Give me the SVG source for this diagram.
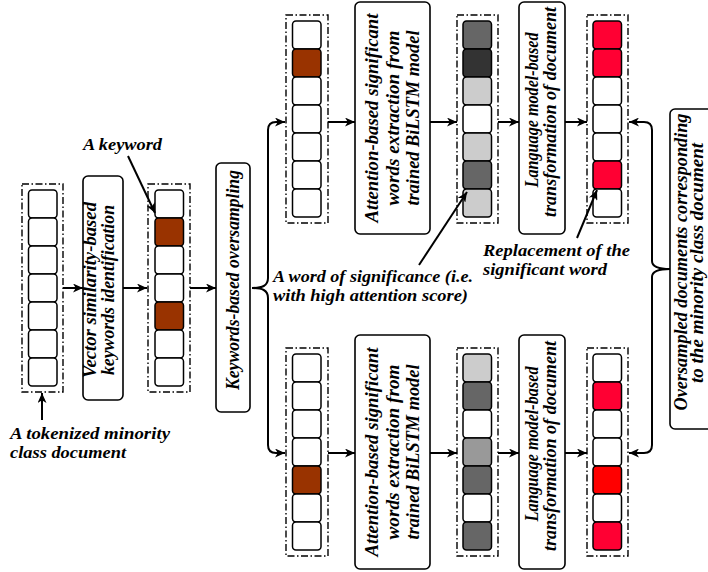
<svg xmlns="http://www.w3.org/2000/svg" width="708" height="572" viewBox="0 0 708 572">
<defs>
<marker id="ah" markerWidth="11" markerHeight="9" refX="10" refY="4.5" orient="auto" markerUnits="userSpaceOnUse">
<path d="M0,0 L10,4.5 L0,9 L2.8,4.5 Z" fill="#000"/>
</marker>
<style>
.t{font-family:"Liberation Serif","Times New Roman",serif;font-style:italic;font-weight:bold;font-size:18px;fill:#000}
.lb{font-size:17px}
.box{fill:#fff;stroke:#000;stroke-width:1.6}
.dash{fill:none;stroke:#000;stroke-width:1.4;stroke-dasharray:7 2.5 1.5 2.5}
.c{stroke:#000;stroke-width:1.5;fill:#fff}
.w{fill:#fff}.br{fill:#993300}.r{fill:#ff0033}.rr{fill:#ff0000}
.g1{fill:#666666}.g2{fill:#333333}.g3{fill:#cccccc}.g4{fill:#999999}
.ln{fill:none;stroke:#000;stroke-width:2;marker-end:url(#ah)}
</style>
</defs>
<rect width="708" height="572" fill="#fff"/>

<g id="doc1">
<rect class="dash" x="22" y="184" width="41" height="208"/>
<rect class="c w" x="28.5" y="190" width="28.5" height="28" rx="3.5"/>
<rect class="c w" x="28.5" y="218" width="28.5" height="28" rx="3.5"/>
<rect class="c w" x="28.5" y="246" width="28.5" height="28" rx="3.5"/>
<rect class="c w" x="28.5" y="274" width="28.5" height="28" rx="3.5"/>
<rect class="c w" x="28.5" y="302" width="28.5" height="28" rx="3.5"/>
<rect class="c w" x="28.5" y="330" width="28.5" height="28" rx="3.5"/>
<rect class="c w" x="28.5" y="358" width="28.5" height="28" rx="3.5"/>
</g>

<g id="vector-box">
<rect class="box" x="83" y="176" width="40" height="224" rx="5"/>
<text class="t" text-anchor="middle" textLength="176" lengthAdjust="spacingAndGlyphs" transform="translate(95.5,290) rotate(-90)">Vector similarity-based</text>
<text class="t" text-anchor="middle" textLength="170" lengthAdjust="spacingAndGlyphs" transform="translate(113.5,290) rotate(-90)">keywords identification</text>
</g>

<g id="doc2">
<rect class="dash" x="148" y="184" width="42" height="208"/>
<rect class="c w" x="155" y="190" width="28.5" height="28" rx="3.5"/>
<rect class="c br" x="155" y="218" width="28.5" height="28" rx="3.5"/>
<rect class="c w" x="155" y="246" width="28.5" height="28" rx="3.5"/>
<rect class="c w" x="155" y="274" width="28.5" height="28" rx="3.5"/>
<rect class="c br" x="155" y="302" width="28.5" height="28" rx="3.5"/>
<rect class="c w" x="155" y="330" width="28.5" height="28" rx="3.5"/>
<rect class="c w" x="155" y="358" width="28.5" height="28" rx="3.5"/>
</g>

<g id="oversampling-box">
<rect class="box" x="216" y="163" width="34" height="249" rx="5"/>
<text class="t" text-anchor="middle" textLength="220" lengthAdjust="spacingAndGlyphs" transform="translate(239,280) rotate(-90)">Keywords-based oversampling</text>
</g>

<g id="doc3">
<rect class="dash" x="286" y="15" width="42" height="208"/>
<rect class="c w" x="292.5" y="21" width="28.5" height="28" rx="3.5"/>
<rect class="c br" x="292.5" y="49" width="28.5" height="28" rx="3.5"/>
<rect class="c w" x="292.5" y="77" width="28.5" height="28" rx="3.5"/>
<rect class="c w" x="292.5" y="105" width="28.5" height="28" rx="3.5"/>
<rect class="c w" x="292.5" y="133" width="28.5" height="28" rx="3.5"/>
<rect class="c w" x="292.5" y="161" width="28.5" height="28" rx="3.5"/>
<rect class="c w" x="292.5" y="189" width="28.5" height="28" rx="3.5"/>
</g>

<g id="attention-top">
<rect class="box" x="355" y="2" width="75" height="232" rx="5"/>
<text class="t" text-anchor="middle" textLength="209" lengthAdjust="spacingAndGlyphs" transform="translate(378,118) rotate(-90)">Attention-based significant</text>
<text class="t" text-anchor="middle" textLength="175" lengthAdjust="spacingAndGlyphs" transform="translate(398.5,118) rotate(-90)">words extraction from</text>
<text class="t" text-anchor="middle" textLength="175" lengthAdjust="spacingAndGlyphs" transform="translate(418.5,118) rotate(-90)">trained BiLSTM model</text>
</g>

<g id="doc4">
<rect class="dash" x="457" y="15" width="41" height="208"/>
<rect class="c g1" x="463" y="21" width="28.5" height="28" rx="3.5"/>
<rect class="c g2" x="463" y="49" width="28.5" height="28" rx="3.5"/>
<rect class="c g3" x="463" y="77" width="28.5" height="28" rx="3.5"/>
<rect class="c w" x="463" y="105" width="28.5" height="28" rx="3.5"/>
<rect class="c g3" x="463" y="133" width="28.5" height="28" rx="3.5"/>
<rect class="c g1" x="463" y="161" width="28.5" height="28" rx="3.5"/>
<rect class="c g3" x="463" y="189" width="28.5" height="28" rx="3.5"/>
</g>

<g id="lm-top">
<rect class="box" x="519" y="2" width="46" height="232" rx="5"/>
<text class="t" text-anchor="middle" textLength="155" lengthAdjust="spacingAndGlyphs" transform="translate(537.5,110) rotate(-90)">Language model-based</text>
<text class="t" text-anchor="middle" textLength="210" lengthAdjust="spacingAndGlyphs" transform="translate(556,112) rotate(-90)">transformation of document</text>
</g>

<g id="doc5">
<rect class="dash" x="587" y="15" width="41" height="208"/>
<rect class="c r" x="593" y="21" width="28.5" height="28" rx="3.5"/>
<rect class="c r" x="593" y="49" width="28.5" height="28" rx="3.5"/>
<rect class="c w" x="593" y="77" width="28.5" height="28" rx="3.5"/>
<rect class="c w" x="593" y="105" width="28.5" height="28" rx="3.5"/>
<rect class="c w" x="593" y="133" width="28.5" height="28" rx="3.5"/>
<rect class="c r" x="593" y="161" width="28.5" height="28" rx="3.5"/>
<rect class="c w" x="593" y="189" width="28.5" height="28" rx="3.5"/>
</g>

<g id="doc6">
<rect class="dash" x="286" y="348" width="42" height="208"/>
<rect class="c w" x="292.5" y="354" width="28.5" height="28" rx="3.5"/>
<rect class="c w" x="292.5" y="382" width="28.5" height="28" rx="3.5"/>
<rect class="c w" x="292.5" y="410" width="28.5" height="28" rx="3.5"/>
<rect class="c w" x="292.5" y="438" width="28.5" height="28" rx="3.5"/>
<rect class="c br" x="292.5" y="466" width="28.5" height="28" rx="3.5"/>
<rect class="c w" x="292.5" y="494" width="28.5" height="28" rx="3.5"/>
<rect class="c w" x="292.5" y="522" width="28.5" height="28" rx="3.5"/>
</g>

<g id="attention-bottom">
<rect class="box" x="355" y="335" width="75" height="234" rx="5"/>
<text class="t" text-anchor="middle" textLength="209" lengthAdjust="spacingAndGlyphs" transform="translate(378,452) rotate(-90)">Attention-based significant</text>
<text class="t" text-anchor="middle" textLength="175" lengthAdjust="spacingAndGlyphs" transform="translate(398.5,452) rotate(-90)">words extraction from</text>
<text class="t" text-anchor="middle" textLength="175" lengthAdjust="spacingAndGlyphs" transform="translate(418.5,452) rotate(-90)">trained BiLSTM model</text>
</g>

<g id="doc7">
<rect class="dash" x="457" y="348" width="41" height="208"/>
<rect class="c g3" x="463" y="354" width="28.5" height="28" rx="3.5"/>
<rect class="c g1" x="463" y="382" width="28.5" height="28" rx="3.5"/>
<rect class="c w" x="463" y="410" width="28.5" height="28" rx="3.5"/>
<rect class="c g4" x="463" y="438" width="28.5" height="28" rx="3.5"/>
<rect class="c g1" x="463" y="466" width="28.5" height="28" rx="3.5"/>
<rect class="c w" x="463" y="494" width="28.5" height="28" rx="3.5"/>
<rect class="c g1" x="463" y="522" width="28.5" height="28" rx="3.5"/>
</g>

<g id="lm-bottom">
<rect class="box" x="519" y="335" width="46" height="234" rx="5"/>
<text class="t" text-anchor="middle" textLength="155" lengthAdjust="spacingAndGlyphs" transform="translate(537.5,444) rotate(-90)">Language model-based</text>
<text class="t" text-anchor="middle" textLength="210" lengthAdjust="spacingAndGlyphs" transform="translate(556,446) rotate(-90)">transformation of document</text>
</g>

<g id="doc8">
<rect class="dash" x="587" y="348" width="41" height="208"/>
<rect class="c w" x="593" y="354" width="28.5" height="28" rx="3.5"/>
<rect class="c r" x="593" y="382" width="28.5" height="28" rx="3.5"/>
<rect class="c w" x="593" y="410" width="28.5" height="28" rx="3.5"/>
<rect class="c w" x="593" y="438" width="28.5" height="28" rx="3.5"/>
<rect class="c rr" x="593" y="466" width="28.5" height="28" rx="3.5"/>
<rect class="c w" x="593" y="494" width="28.5" height="28" rx="3.5"/>
<rect class="c r" x="593" y="522" width="28.5" height="28" rx="3.5"/>
</g>

<g id="output-box">
<rect class="box" x="670" y="109" width="60" height="320" rx="5"/>
<text class="t" text-anchor="middle" textLength="297" lengthAdjust="spacingAndGlyphs" transform="translate(687,262) rotate(-90)">Oversampled documents corresponding</text>
<text class="t" text-anchor="middle" textLength="240" lengthAdjust="spacingAndGlyphs" transform="translate(703,263) rotate(-90)">to the minority class document</text>
</g>

<g id="labels">
<text class="t lb" x="83" y="150" textLength="79" lengthAdjust="spacingAndGlyphs">A keyword</text>
<text class="t lb" x="10" y="439" textLength="160" lengthAdjust="spacingAndGlyphs">A tokenized minority</text>
<text class="t lb" x="10" y="458" textLength="116" lengthAdjust="spacingAndGlyphs">class document</text>
<text class="t lb" x="273" y="282" textLength="200" lengthAdjust="spacingAndGlyphs">A word of significance (i.e.</text>
<text class="t lb" x="273" y="301" textLength="195" lengthAdjust="spacingAndGlyphs">with high attention score)</text>
<text class="t lb" x="483" y="256" textLength="147" lengthAdjust="spacingAndGlyphs">Replacement of the</text>
<text class="t lb" x="483" y="275" textLength="124" lengthAdjust="spacingAndGlyphs">significant word</text>
</g>

<g id="connectors">
<path class="ln" d="M63,288 H83"/>
<path class="ln" d="M123,288 H147"/>
<path class="ln" d="M190,288 H216"/>
<path class="ln" d="M42,420 V393"/>
<path class="ln" d="M252,288 C262,288 268,286 268,278 V130 Q268,122 276,122 H285"/>
<path class="ln" d="M252,288 C262,288 268,290 268,298 V445 Q268,453 276,453 H285"/>
<path class="ln" d="M328,122 H355"/>
<path class="ln" d="M430,122 H457"/>
<path class="ln" d="M498,122 H519"/>
<path class="ln" d="M565,122 H587"/>
<path class="ln" d="M328,453 H355"/>
<path class="ln" d="M430,453 H457"/>
<path class="ln" d="M498,453 H519"/>
<path class="ln" d="M565,453 H587"/>
<path class="ln" d="M670,269 C660,269 652,267 652,261 V130 Q652,122 644,122 H629"/>
<path class="ln" d="M670,269 C660,269 652,271 652,277 V445 Q652,453 644,453 H629"/>
<path class="ln" d="M128,156 L155,213"/>
<path class="ln" d="M419,265 L467,192"/>
<path class="ln" d="M577,238 L597,190"/>
</g>
</svg>
